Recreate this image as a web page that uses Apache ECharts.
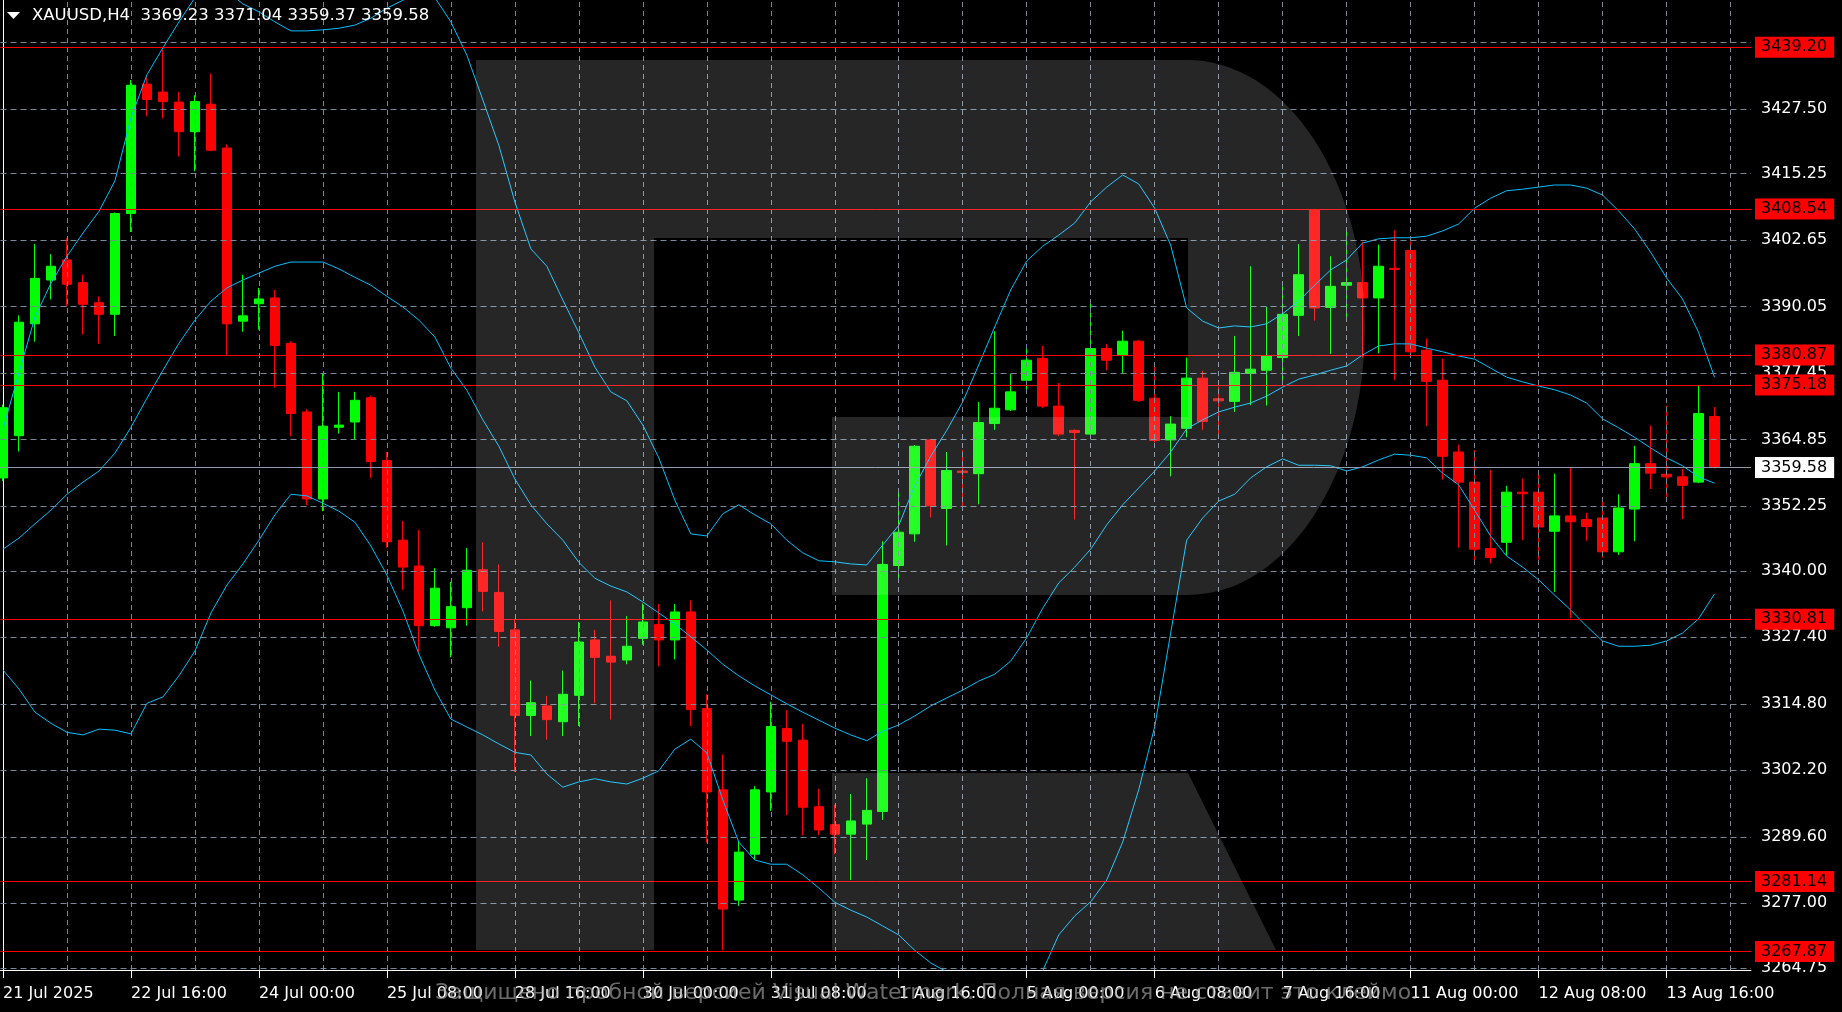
<!DOCTYPE html>
<html><head><meta charset="utf-8">
<script src="https://cdn.jsdelivr.net/npm/echarts@6/dist/echarts.min.js"></script>
<style>html,body{margin:0;padding:0;background:#000;overflow:hidden}#c{width:1842px;height:1012px}</style>
</head><body><div id="c"></div>
<script>
// ---------- data ----------
const xLabelBars = [0, 8, 16, 24, 32, 40, 48, 56, 64, 72, 80, 88, 96, 104];
const xLabels = ['21 Jul 2025', '22 Jul 16:00', '24 Jul 00:00', '25 Jul 08:00', '28 Jul 16:00', '30 Jul 00:00',
  '31 Jul 08:00', '1 Aug 16:00', '5 Aug 00:00', '6 Aug 08:00', '7 Aug 16:00', '11 Aug 00:00', '12 Aug 08:00', '13 Aug 16:00'];
const yTicks = [3264.75, 3277.00, 3289.60, 3302.20, 3314.80, 3327.40, 3340.00, 3352.25, 3364.85, 3377.45,
  3390.05, 3402.65, 3415.25, 3427.50, 3440.10];
const yTickLabels = [3264.75, 3277.00, 3289.60, 3302.20, 3314.80, 3327.40, 3340.00, 3352.25, 3364.85, 3377.45,
  3390.05, 3402.65, 3415.25, 3427.50];
const levels = [3439.20, 3408.54, 3380.87, 3375.18, 3330.81, 3281.14, 3267.87];
const lastPrice = 3359.58;
const title = 'XAUUSD,H4  3369.23 3371.04 3359.37 3359.58';
const watermarkText = 'Защищено пробной версией Visual Watermark. Полная версия не ставит это клеймо.';

const opens = [3357.6,3365.6,3386.8,3395.1,3398.9,3394.6,3390.8,3388.6,3407.7,3432.2,3430.7,3428.8,3423.2,3428.4,3420.1,3387.3,
  3390.6,3391.7,3383.1,3370.1,3353.6,3367.2,3368.2,3372.8,3360.9,3345.8,3340.9,3329.6,3329.2,3333.0,3340.2,3335.9,
  3328.8,3312.6,3314.4,3311.4,3316.4,3326.9,3323.8,3323.1,3327.2,3329.8,3326.9,3332.2,3313.9,3298.5,3277.6,3286.3,
  3298.1,3310.1,3307.9,3295.3,3291.9,3290.1,3292.0,3294.4,3341.0,3347.0,3364.8,3351.8,3358.9,3358.4,3367.9,3370.5,
  3376.1,3380.2,3371.2,3366.6,3365.9,3382.1,3380.9,3383.5,3372.7,3364.8,3367.0,3376.5,3372.6,3372.1,3377.4,3378.0,
  3380.4,3388.4,3408.4,3389.9,3394.1,3394.6,3391.7,3397.3,3400.7,3381.8,3376.1,3362.5,3356.8,3344.2,3345.4,3354.9,
  3354.9,3347.5,3350.4,3349.7,3350.0,3343.6,3351.7,3360.3,3358.3,3357.8,3356.8,3369.23];
const highs = [3371.5,3388.4,3401.9,3400.0,3403.0,3396.1,3392.0,3407.9,3433.0,3433.7,3438.7,3430.7,3430.1,3434.2,3420.8,3396.1,
  3393.6,3393.2,3383.5,3370.6,3377.4,3373.9,3373.9,3373.2,3362.5,3349.4,3347.7,3340.5,3337.9,3344.3,3345.4,3341.2,
  3330.9,3319.2,3316.3,3321.1,3330.3,3328.8,3334.4,3331.4,3333.8,3333.7,3333.7,3334.4,3316.6,3305.2,3288.8,3299.2,
  3315.2,3313.6,3311.0,3298.7,3295.7,3297.7,3300.7,3345.6,3355.3,3363.8,3365.0,3362.5,3362.9,3372.0,3385.4,3377.3,
  3382.0,3382.6,3375.6,3366.8,3390.6,3383.0,3385.5,3383.7,3378.6,3369.3,3380.4,3377.9,3374.9,3384.5,3397.7,3390.0,
  3393.9,3401.9,3408.6,3399.6,3404.7,3402.3,3401.8,3404.5,3402.4,3384.0,3380.2,3363.9,3362.9,3359.1,3356.1,3357.5,
  3358.4,3358.4,3359.5,3351.0,3353.8,3354.5,3363.7,3367.5,3371.3,3359.3,3375.1,3371.04];
const lows = [3357.0,3362.6,3383.4,3391.4,3390.1,3384.8,3383.0,3384.5,3404.2,3426.1,3425.7,3418.5,3415.7,3419.5,3380.9,3385.3,
  3385.7,3374.7,3365.5,3352.4,3351.3,3366.0,3364.9,3357.6,3344.4,3336.4,3324.6,3329.4,3323.6,3329.6,3332.3,3325.6,
  3301.9,3308.7,3308.0,3308.7,3310.6,3314.9,3311.8,3322.3,3326.0,3321.9,3323.2,3310.6,3288.5,3268.1,3276.5,3285.2,
  3294.5,3293.7,3289.9,3289.9,3286.3,3281.4,3285.2,3292.8,3338.3,3345.5,3350.1,3344.8,3351.6,3352.6,3366.7,3370.3,
  3373.5,3370.8,3365.5,3349.7,3365.6,3378.0,3377.5,3372.0,3364.3,3357.9,3365.3,3366.7,3365.3,3370.1,3371.4,3371.3,
  3375.3,3384.5,3387.4,3381.1,3388.0,3380.4,3381.2,3376.1,3381.3,3367.4,3357.3,3344.4,3341.4,3341.4,3342.8,3345.8,
  3342.1,3336.0,3331.0,3345.7,3342.5,3343.0,3345.6,3355.5,3354.0,3349.8,3356.6,3359.37];
const closes = [3370.9,3387.1,3395.4,3397.7,3394.3,3390.5,3388.6,3407.7,3432.0,3429.3,3428.9,3423.2,3428.9,3419.7,3386.8,3388.3,
  3391.5,3382.7,3369.8,3353.6,3367.4,3367.6,3372.3,3360.7,3345.5,3340.7,3329.6,3336.7,3333.2,3340.1,3336.1,3328.5,
  3312.6,3315.0,3311.8,3316.6,3326.5,3323.6,3322.7,3325.7,3330.3,3326.9,3332.2,3313.7,3298.1,3275.9,3286.7,3298.5,
  3310.5,3307.7,3295.2,3290.9,3290.1,3292.6,3294.6,3341.2,3347.3,3363.6,3352.3,3359.0,3358.6,3368.1,3370.8,3373.9,
  3379.9,3371.2,3365.9,3366.2,3382.1,3379.9,3383.5,3372.3,3364.7,3367.8,3376.5,3368.3,3372.2,3377.6,3378.2,3380.7,
  3388.6,3396.1,3389.8,3393.9,3394.6,3391.7,3397.7,3397.1,3381.5,3375.9,3361.7,3356.8,3344.1,3342.5,3354.9,3354.6,
  3348.3,3350.4,3349.3,3348.4,3343.6,3351.9,3360.3,3358.5,3357.8,3356.2,3369.8,3359.58];
const bbUpper = [3366.9,3377.5,3388.1,3394.5,3399.6,3404.0,3408.1,3413.9,3425.8,3434.0,3439.1,3444.0,3448.6,3450.2,3449.9,3447.4,
  3445.9,3444.0,3442.3,3442.3,3442.5,3442.8,3443.4,3444.7,3446.6,3448.1,3450.0,3448.6,3444.0,3437.7,3429.2,3420.6,
  3409.9,3401.0,3397.7,3391.3,3385.1,3378.6,3373.9,3372.2,3367.6,3361.4,3353.4,3347.0,3346.6,3350.8,3352.5,3350.6,
  3348.9,3345.8,3343.4,3341.9,3341.7,3341.3,3341.1,3344.9,3348.6,3356.1,3361.7,3366.6,3372.0,3379.0,3386.2,3393.2,
  3398.7,3401.5,3403.6,3405.9,3409.9,3412.7,3415.0,3413.3,3408.7,3401.7,3389.8,3387.3,3386.0,3386.4,3386.2,3386.8,
  3388.7,3391.1,3394.1,3397.0,3398.9,3402.1,3402.9,3403.1,3403.1,3403.4,3404.4,3405.7,3408.7,3410.6,3412.0,3412.3,
  3412.7,3413.1,3413.1,3412.5,3411.2,3408.2,3404.8,3400.4,3395.5,3391.5,3385.2,3376.7];
const bbMiddle = [3344.1,3346.2,3348.9,3351.5,3354.5,3356.8,3358.9,3362.3,3367.2,3372.7,3378.0,3383.1,3387.5,3391.1,3393.6,3395.1,
  3396.4,3397.7,3398.5,3398.5,3398.5,3397.2,3395.6,3394.1,3392.0,3390.0,3387.5,3384.3,3378.4,3374.2,3368.6,3363.6,
  3357.4,3352.5,3348.9,3345.8,3341.6,3338.6,3337.1,3336.0,3334.1,3332.0,3329.9,3327.5,3325.0,3322.3,3320.1,3318.2,
  3316.5,3314.8,3313.2,3311.7,3310.2,3308.9,3307.8,3309.6,3310.8,3312.5,3314.4,3315.9,3317.4,3319.1,3320.4,3322.9,
  3327.3,3332.9,3337.7,3340.7,3344.1,3348.7,3352.5,3355.7,3358.9,3362.5,3366.9,3368.6,3370.1,3371.0,3371.8,3373.1,
  3374.8,3376.3,3377.1,3378.0,3378.8,3380.9,3382.6,3383.0,3383.0,3382.2,3381.5,3380.7,3380.1,3378.4,3376.7,3375.8,
  3375.0,3374.3,3373.3,3371.8,3368.8,3367.1,3365.3,3363.3,3361.4,3359.9,3357.8,3356.6];
const bbLower = [3321.2,3317.6,3313.2,3311.1,3309.4,3308.9,3310.0,3309.8,3309.1,3314.9,3316.1,3320.1,3324.8,3332.0,3337.3,3341.3,
  3345.8,3350.6,3354.5,3354.2,3352.8,3351.3,3349.2,3344.7,3339.2,3332.4,3324.2,3317.4,3311.9,3310.4,3308.9,3307.2,
  3305.6,3305.1,3301.5,3299.0,3300.0,3300.6,3300.0,3299.6,3300.7,3302.1,3306.2,3308.1,3305.5,3296.6,3288.6,3285.2,
  3284.4,3284.4,3282.4,3279.9,3277.2,3275.7,3274.4,3272.7,3271.0,3268.1,3265.7,3264.0,3262.6,3259.2,3254.6,3252.6,
  3255.9,3264.2,3271.0,3274.6,3277.3,3281.4,3288.6,3298.5,3310.4,3328.2,3345.8,3350.0,3353.2,3354.5,3357.6,3359.7,
  3361.2,3360.0,3360.0,3359.9,3358.9,3359.7,3361.0,3362.1,3361.9,3361.4,3358.5,3356.3,3351.5,3346.6,3342.8,3340.7,
  3338.3,3335.4,3332.6,3329.5,3326.7,3325.7,3325.7,3325.9,3326.7,3328.2,3330.9,3335.6];

// ---------- build ----------
const FONT = 'DejaVu Sans';
const FS = 16;
const candleData = opens.map((o, i) => [i, o, closes[i], lows[i], highs[i]]);
const line = arr => arr.map((v, i) => [i, v]);
const vGrid = [];
for (let b = 4; b <= 108; b += 4) vGrid.push(b);
const WM = 'rgba(255,255,255,0.15)';
const boxLabel = (text, bg) => ({ show: true, position: 'end', distance: 4, formatter: text, color: '#000',
  backgroundColor: bg, padding: [3, 7, 3, 6], fontFamily: FONT, fontSize: FS, lineHeight: 15 });

const chart = echarts.init(document.getElementById('c'), null, { renderer: 'canvas' });
const option = {
  animation: false,
  backgroundColor: '#000',
  grid: { left: 0, right: 91, top: 0, bottom: 42 },
  xAxis: {
    type: 'value', min: -0.15625, max: 109.28125,
    axisLine: { show: true, lineStyle: { color: '#fff', width: 1 } },
    axisTick: { show: true, customValues: xLabelBars, length: 8, lineStyle: { color: '#fff' } },
    axisLabel: {
      show: true, customValues: xLabelBars, color: '#fff', fontFamily: FONT, fontSize: FS, margin: 16, align: 'left',
      formatter: v => xLabels[xLabelBars.indexOf(Math.round(v))] || ''
    },
    splitLine: { show: false }
  },
  yAxis: {
    type: 'value', position: 'right', min: 3264.36, max: 3448.15, scale: true,
    axisLine: { show: true, lineStyle: { color: '#fff', width: 1 } },
    axisTick: { show: true, customValues: yTicks, length: 3, lineStyle: { color: '#fff' } },
    axisLabel: { show: true, customValues: yTickLabels, color: '#fff', fontFamily: FONT, fontSize: FS, margin: 10,
      formatter: v => v.toFixed(2) },
    splitLine: { show: false }
  },
  series: [
    { type: 'line', data: [], z: 1, silent: true,
      markLine: { silent: true, symbol: ['none', 'none'], animation: false, label: { show: false },
        lineStyle: { color: '#778899', type: [6, 4], width: 1 },
        data: yTicks.map(v => ({ yAxis: v })).concat(vGrid.map(v => ({ xAxis: v, lineStyle: { type: [5, 4] } }))) } },
    { type: 'line', data: [], z: 2, silent: true,
      markLine: { silent: true, symbol: ['none', 'none'], animation: false,
        data: levels.map(v => ({ yAxis: v,
          lineStyle: { color: '#ff0000', type: 'solid', width: 1 },
          label: boxLabel(v.toFixed(2), '#ff0000') }))
          .concat([{ yAxis: lastPrice,
            lineStyle: { color: '#8c99aa', type: 'solid', width: 1 },
            label: boxLabel(lastPrice.toFixed(2), '#ffffff') }]) } },
    { type: 'candlestick', z: 3, data: candleData, encode: { x: 0, y: [1, 2, 3, 4] }, barWidth: 10,
      itemStyle: { color: '#00ff00', color0: '#ff0000', borderColor: '#00ff00', borderColor0: '#ff0000', borderWidth: 1 } },
    { type: 'line', z: 4, data: line(bbUpper), showSymbol: false, symbol: 'none', lineStyle: { color: '#00bfff', width: 1 } },
    { type: 'line', z: 4, data: line(bbMiddle), showSymbol: false, symbol: 'none', lineStyle: { color: '#00bfff', width: 1 } },
    { type: 'line', z: 4, data: line(bbLower), showSymbol: false, symbol: 'none', lineStyle: { color: '#00bfff', width: 1 } }
  ],
  graphic: [
    { type: 'polygon', z: 50, silent: true, shape: { points: [[7, 12], [20, 12], [13.5, 19]] }, style: { fill: '#fff' } },
    { type: 'text', z: 50, silent: true, x: 32, y: 7, style: { text: title, fill: '#fff', font: '16.5px "DejaVu Sans"' } },
    { type: 'rect', z: 100, silent: true, shape: { x: 476, y: 60, width: 178, height: 890 }, style: { fill: WM } },
    { type: 'rect', z: 100, silent: true, shape: { x: 654, y: 60, width: 534, height: 178 }, style: { fill: WM } },
    { type: 'rect', z: 100, silent: true, shape: { x: 832, y: 417, width: 356, height: 178 }, style: { fill: WM } },
    { type: 'sector', z: 100, silent: true, x: 1188, y: 327.5, scaleX: 177 / 267.5, scaleY: 1,
      shape: { cx: 0, cy: 0, r: 267.5, r0: 0, startAngle: -Math.PI / 2, endAngle: Math.PI / 2 }, style: { fill: WM } },
    { type: 'polygon', z: 100, silent: true, shape: { points: [[832, 773], [1188, 773], [1276, 950], [832, 950]] }, style: { fill: WM } },
    { type: 'text', z: 101, silent: true, x: 435, y: 982,
      style: { text: watermarkText, fill: 'rgba(165,165,165,0.65)', font: '22px "DejaVu Sans"' } }
  ]
};
chart.setOption(option);
</script>
</body></html>
